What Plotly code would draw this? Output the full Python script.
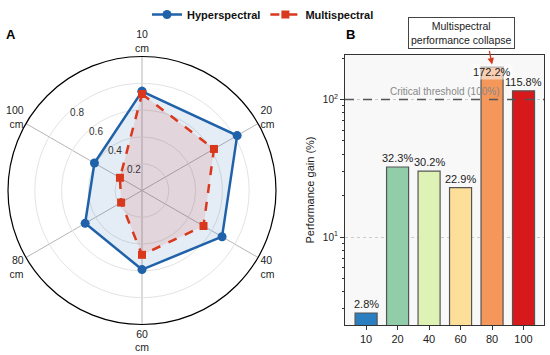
import math
import plotly.graph_objects as go

# ---- data ----
depths = ["10", "20", "40", "60", "80", "100"]
angle_labels = ["10<br>cm", "20<br>cm", "40<br>cm", "60<br>cm", "80<br>cm", "100<br>cm"]
hyper = [0.74, 0.82, 0.69, 0.59, 0.49, 0.41]
multi = [0.72, 0.62, 0.53, 0.48, 0.18, 0.19]
gain = [2.8, 32.3, 30.2, 22.9, 172.2, 115.8]
gain_text = ["2.8%", "32.3%", "30.2%", "22.9%", "172.2%", "115.8%"]
radial_ticks = [0.2, 0.4, 0.6, 0.8]
threshold = 100

BLUE = "#1f62aa"
RED = "#d9381c"
bar_colors = ["#2b7fc0", "#92cdaa", "#dff2b5", "#fedf99", "#f5965a", "#d7191c"]
FONT = "Liberation Sans, Arial, sans-serif"

fig = go.Figure()

theta_closed = angle_labels + [angle_labels[0]]
fig.add_trace(go.Scatterpolar(
    r=hyper + [hyper[0]], theta=theta_closed, mode="lines+markers",
    fill="toself", fillcolor="rgba(33,102,172,0.12)",
    line=dict(color=BLUE, width=2.5), marker=dict(color=BLUE, size=9, symbol="circle"),
    showlegend=False))
fig.add_trace(go.Scatterpolar(
    r=multi + [multi[0]], theta=theta_closed, mode="lines+markers",
    fill="toself", fillcolor="rgba(215,48,39,0.12)",
    line=dict(color=RED, width=2.5, dash="dash"), marker=dict(color=RED, size=8, symbol="square"),
    showlegend=False))
# legend entries
fig.add_trace(go.Scatterpolar(r=[None], theta=[angle_labels[0]], mode="lines+markers", name="<b>Hyperspectral</b>",
                              line=dict(color=BLUE, width=2.5), marker=dict(color=BLUE, size=9, symbol="circle")))
fig.add_trace(go.Scatterpolar(r=[None], theta=[angle_labels[0]], mode="lines+markers", name="<b>Multispectral</b>",
                              line=dict(color=RED, width=2.5, dash="dash"), marker=dict(color=RED, size=8, symbol="square")))

fig.add_trace(go.Bar(
    x=depths, y=gain, marker=dict(color=bar_colors, line=dict(color="#555555", width=1.2)),
    width=0.7, showlegend=False, xaxis="x", yaxis="y"))

annotations = []
for i, (d, g, t) in enumerate(zip(depths, gain, gain_text)):
    if d == "80":
        annotations.append(dict(x=i, y=math.log10(g), xref="x", yref="y", text=t, showarrow=False,
                                xanchor="center", yanchor="middle", yshift=-5,
                                bgcolor="rgba(255,255,255,0.55)",
                                font=dict(size=11, color="#222", family=FONT)))
    else:
        annotations.append(dict(x=i, y=math.log10(g), xref="x", yref="y", text=t, showarrow=False,
                                xanchor="center", yanchor="bottom", yshift=1,
                                font=dict(size=11, color="#222", family=FONT)))

annotations += [
    dict(x=2.5, y=math.log10(threshold), xref="x", yref="y", text="Critical threshold (100%)", showarrow=False,
         xanchor="center", yanchor="bottom", yshift=1, font=dict(size=10, color="#888888", family=FONT)),
    dict(x=461 / 550, y=1 - 33 / 355, xref="paper", yref="paper",
         text="Multispectral<br>performance collapse", showarrow=False,
         xanchor="center", yanchor="middle",
         bordercolor="#444", borderwidth=1, borderpad=2, bgcolor="white",
         font=dict(size=10.5, color="#222", family=FONT)),
    dict(x=4, y=2.255, xref="x", yref="y", ax=-3, ay=-15, axref="pixel", ayref="pixel",
         text="", showarrow=True, arrowhead=2, arrowsize=1, arrowwidth=1.3, arrowcolor=RED),
    dict(x=11 / 550, y=1 - 35 / 355, xref="paper", yref="paper", text="<b>A</b>", showarrow=False,
         xanchor="center", yanchor="middle", font=dict(size=13, color="black", family=FONT)),
    dict(x=350 / 550, y=1 - 35 / 355, xref="paper", yref="paper", text="<b>B</b>", showarrow=False,
         xanchor="center", yanchor="middle", font=dict(size=13, color="black", family=FONT)),
]

fig.add_shape(type="line", xref="paper", yref="y", x0=345 / 550, x1=544 / 550, y0=threshold, y1=threshold,
              line=dict(color="#555555", width=1.5, dash="dash"))

cx, cy, R = 142, 190.5, 134
fig.update_layout(
    width=550, height=355, margin=dict(l=0, r=0, t=0, b=0),
    paper_bgcolor="white", plot_bgcolor="#f8f8f8",
    font=dict(family=FONT, size=11, color="#222"),
    showlegend=True,
    legend=dict(orientation="h", x=263 / 550, xanchor="center", y=1.0, yanchor="top",
                font=dict(size=11, color="#111", family=FONT),
                itemwidth=30, bgcolor="rgba(0,0,0,0)"),
    polar=dict(
        domain=dict(x=[(cx - R) / 550, (cx + R) / 550], y=[(355 - cy - R) / 355, (355 - cy + R) / 355]),
        bgcolor="white",
        angularaxis=dict(rotation=90, direction="clockwise", type="category",
                         categoryorder="array", categoryarray=angle_labels,
                         showline=True, linecolor="black", linewidth=1.2,
                         gridcolor="#b5b5b5", gridwidth=1, ticks="",
                         tickfont=dict(size=10.5, color="#222", family=FONT)),
        radialaxis=dict(range=[0, 1], tickvals=radial_ticks, ticktext=[str(v) for v in radial_ticks],
                        angle=135, tickangle=135, showline=False, ticks="", gridcolor="#e3e3e3", gridwidth=1,
                        tickfont=dict(size=10, color="#333", family=FONT)),
    ),
    xaxis=dict(domain=[345 / 550, 544 / 550], type="category", range=[-0.67, 5.65],
               showline=True, linecolor="#333", linewidth=1.2, mirror=True,
               ticks="outside", ticklen=4, tickcolor="#333", showgrid=False,
               tickfont=dict(size=11, color="#222", family=FONT), anchor="y"),
    yaxis=dict(domain=[1 - 325 / 355, 1 - 55 / 355], type="log", range=[0.36, 2.324],
               showline=True, linecolor="#333", linewidth=1.2, mirror=True,
               tickvals=[10, 100], ticktext=["10<sup>1</sup>", "10<sup>2</sup>"],
               ticks="outside", ticklen=4, tickcolor="#333",
               minor=dict(ticks="outside", ticklen=2, tickcolor="#333",
                          tickvals=[3, 4, 5, 6, 7, 8, 9, 20, 30, 40, 50, 60, 70, 80, 90, 200], showgrid=False),
               showgrid=True, gridcolor="#cccccc", griddash="dot", gridwidth=1,
               tickfont=dict(size=10, color="#222", family=FONT),
               title=dict(text="Performance gain (%)", font=dict(size=11, color="#222", family=FONT), standoff=6),
               anchor="x"),
    annotations=annotations,
)

fig.write_html("out.html", config={"displayModeBar": False},
               post_script="document.body.style.margin='0px';")
